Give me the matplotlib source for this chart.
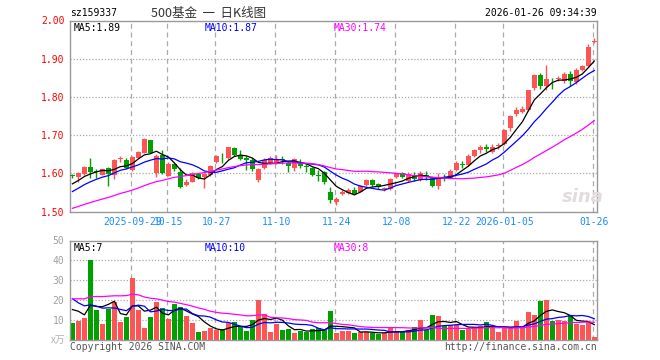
import matplotlib
matplotlib.use("Agg")
import matplotlib.pyplot as plt
import numpy as np
import pandas as pd

# daily candles, 2025-09-15 .. 2026-01-26 (88 trading days)
open_ = [1.595, 1.590, 1.597, 1.617, 1.605, 1.596, 1.613, 1.596, 1.638, 1.636,
         1.609, 1.641, 1.654, 1.686, 1.600, 1.648, 1.594, 1.625, 1.604, 1.570,
         1.578, 1.598, 1.591, 1.596, 1.629, 1.640, 1.639, 1.667, 1.648, 1.641,
         1.635, 1.582, 1.613, 1.627, 1.627, 1.637, 1.628, 1.615, 1.626, 1.617,
         1.615, 1.594, 1.604, 1.552, 1.525, 1.545, 1.549, 1.556, 1.552, 1.569,
         1.582, 1.571, 1.560, 1.558, 1.591, 1.600, 1.581, 1.596, 1.582, 1.596,
         1.589, 1.567, 1.590, 1.589, 1.609, 1.624, 1.622, 1.646, 1.660, 1.670,
         1.657, 1.671, 1.677, 1.718, 1.754, 1.760, 1.767, 1.822, 1.857, 1.828,
         1.839, 1.847, 1.841, 1.859, 1.839, 1.870, 1.882, 1.945]
high = [1.599, 1.604, 1.620, 1.640, 1.611, 1.612, 1.616, 1.638, 1.646, 1.641,
        1.645, 1.659, 1.692, 1.687, 1.650, 1.661, 1.630, 1.628, 1.614, 1.584,
        1.603, 1.600, 1.600, 1.622, 1.648, 1.652, 1.670, 1.670, 1.661, 1.644,
        1.640, 1.615, 1.640, 1.645, 1.648, 1.646, 1.632, 1.640, 1.638, 1.625,
        1.617, 1.608, 1.606, 1.563, 1.539, 1.556, 1.562, 1.565, 1.570, 1.585,
        1.584, 1.575, 1.565, 1.587, 1.602, 1.603, 1.604, 1.604, 1.606, 1.607,
        1.592, 1.600, 1.598, 1.610, 1.632, 1.632, 1.650, 1.664, 1.674, 1.677,
        1.676, 1.679, 1.716, 1.753, 1.774, 1.776, 1.818, 1.860, 1.862, 1.884,
        1.850, 1.854, 1.865, 1.868, 1.875, 1.884, 1.938, 1.955]
low = [1.588, 1.576, 1.595, 1.589, 1.589, 1.595, 1.567, 1.585, 1.629, 1.611,
       1.605, 1.640, 1.652, 1.652, 1.591, 1.597, 1.592, 1.606, 1.562, 1.566,
       1.576, 1.585, 1.562, 1.594, 1.627, 1.628, 1.638, 1.645, 1.635, 1.609,
       1.605, 1.578, 1.611, 1.625, 1.625, 1.625, 1.603, 1.605, 1.615, 1.604,
       1.594, 1.581, 1.572, 1.523, 1.517, 1.542, 1.546, 1.545, 1.550, 1.567,
       1.567, 1.560, 1.554, 1.556, 1.589, 1.588, 1.578, 1.580, 1.580, 1.582,
       1.563, 1.559, 1.581, 1.587, 1.607, 1.613, 1.620, 1.642, 1.652, 1.657,
       1.652, 1.663, 1.675, 1.712, 1.751, 1.758, 1.764, 1.817, 1.821, 1.819,
       1.821, 1.841, 1.837, 1.828, 1.835, 1.868, 1.878, 1.940]
close = [1.592, 1.602, 1.617, 1.604, 1.604, 1.611, 1.597, 1.636, 1.639, 1.613,
         1.643, 1.657, 1.689, 1.654, 1.646, 1.600, 1.625, 1.611, 1.565, 1.576,
         1.600, 1.587, 1.597, 1.619, 1.646, 1.639, 1.668, 1.648, 1.637, 1.636,
         1.611, 1.611, 1.635, 1.639, 1.634, 1.634, 1.618, 1.638, 1.618, 1.616,
         1.596, 1.593, 1.578, 1.530, 1.532, 1.552, 1.556, 1.547, 1.567, 1.582,
         1.569, 1.563, 1.561, 1.584, 1.600, 1.591, 1.598, 1.584, 1.602, 1.591,
         1.567, 1.591, 1.589, 1.607, 1.628, 1.623, 1.646, 1.660, 1.670, 1.663,
         1.670, 1.672, 1.714, 1.751, 1.767, 1.769, 1.817, 1.857, 1.828, 1.848,
         1.838, 1.848, 1.859, 1.841, 1.870, 1.882, 1.930, 1.947]
volume = [8.5, 9.7, 11, 40, 15, 8, 15.5, 19, 9, 11.5,
          31, 15, 6, 11.5, 19, 16, 10.5, 18, 16.5, 12,
          8.5, 4, 4.5, 6, 5, 5.5, 8.5, 9, 6.5, 4.5,
          10, 20, 13, 4, 8, 5, 5.5, 3.5, 4.5, 4,
          5.5, 6, 5, 14.5, 3.5, 4.5, 4.5, 3.5, 4, 4,
          3.5, 3, 3.5, 6, 4.5, 4, 5, 6.5, 10, 5,
          12.5, 12, 7, 7.5, 7.5, 5, 5.5, 6.5, 7, 9,
          6.5, 4, 6.5, 6, 9.5, 6, 14, 12.5, 19.5, 20,
          9.5, 10, 9.5, 12.5, 8, 7.5, 9, 1.5]

# 29 sessions before the window, estimated from where the MA lines start
prior_close = [1.452, 1.460, 1.455, 1.468, 1.475, 1.470, 1.482, 1.478, 1.490, 1.500,
               1.495, 1.502, 1.490, 1.498, 1.505, 1.500, 1.496, 1.504, 1.500, 1.508,
               1.515, 1.522, 1.530, 1.540, 1.553, 1.558, 1.565, 1.570, 1.577]
prior_volume = [9, 12, 8, 11, 10, 9, 13, 10, 8, 10,
                25, 38, 30, 28, 35, 32, 27, 36, 31, 30.5,
                31, 26, 35, 21.5, 18, 14, 20, 16, 18]

tick_idx = [10, 16, 24, 34, 44, 54, 64, 72, 87]
tick_labels = ['2025-09-29', '10-15', '10-27', '11-10', '11-24', '12-08',
               '12-22', '2026-01-05', '01-26']

UP = '#ff5454'
DOWN = '#00a000'
MA_COLORS = {5: 'black', 10: '#0000ff', 30: '#ff00ff'}
MONO = 'DejaVu Sans Mono'
CJK = ['Noto Sans CJK SC', 'DejaVu Sans']
W, H = 660, 360

n = len(close)
x = np.arange(n)
o = np.array(open_)
c = np.array(close)
colors = np.where(c >= o, UP, DOWN)

cl_all = pd.Series(prior_close + close)
vol_all = pd.Series(prior_volume + volume)
skip = len(prior_close)


def px_axes(left, top, right, bottom):
    return fig.add_axes([left / W, 1 - bottom / H, (right - left) / W, (bottom - top) / H])


def style(ax, yticks, ylabels, ycolor):
    ax.set_xlim(-0.4, n - 0.55)
    for s in ax.spines.values():
        s.set_color('#999999')
        s.set_linewidth(1.0)
    ax.set_yticks(yticks)
    ax.set_yticklabels(ylabels, fontfamily=MONO, fontsize=7, color=ycolor)
    ax.tick_params(length=0, pad=4)
    for v in yticks[1:-1]:
        ax.axhline(v, color='#aaaaaa', lw=0.9, ls=(0, (1, 1.5)), zorder=0)
    for xt in tick_idx:
        ax.axvline(xt - 0.3, color='#aaaaaa', lw=0.9, ls=(0, (4, 3)), zorder=0)


def ma_labels(ax, values, fmt, y):
    for (p, col), xpos in zip(MA_COLORS.items(), (4, 135, 264)):
        ax.text(xpos / 527, y, f'MA{p}:{fmt(values[p])}', transform=ax.transAxes,
                fontfamily=MONO, fontsize=7, color=col, va='top')


fig = plt.figure(figsize=(W / 100, H / 100), dpi=100)

# price panel
ax = px_axes(70, 20.5, 597, 211.5)
ax.set_ylim(1.50, 2.00)
yt = [1.50, 1.60, 1.70, 1.80, 1.90, 2.00]
style(ax, yt, [f'{v:.2f}' for v in yt], '#ff0000')
ax.vlines(x, low, high, colors=colors, lw=1.0, zorder=2)
body_h = np.maximum(np.abs(c - o), 0.002)
ax.bar(x, body_h, bottom=np.minimum(o, c), width=0.78, color=colors, lw=0, zorder=3)
ma_last = {}
for p, col in MA_COLORS.items():
    ma = cl_all.rolling(p).mean().to_numpy()
    ma_last[p] = ma[-1]
    ax.plot(x, ma[skip:], color=col, lw=0.9, zorder=4)
ax.set_xticks(tick_idx)
ax.set_xticklabels(tick_labels, fontfamily=MONO, fontsize=7, color='#1a8cff')
ax.tick_params(axis='x', pad=4)
ma_labels(ax, ma_last, lambda v: f'{v:.2f}', 0.985)

# volume panel
av = px_axes(70, 240.5, 597, 340)
av.set_ylim(0, 50)
vt = [0, 10, 20, 30, 40, 50]
style(av, vt, ['', '10', '20', '30', '40', '50'], '#a0a0a0')
av.bar(x, volume, width=0.78, color=colors, lw=0, zorder=2)
vma_last = {}
for p, col in MA_COLORS.items():
    ma = vol_all.rolling(p).mean().to_numpy()
    vma_last[p] = ma[-1]
    av.plot(x, ma[skip:], color=col, lw=0.9, zorder=3)
av.set_xticks([])
ma_labels(av, vma_last, lambda v: f'{int(v)}', 0.975)

# header and footer texts
fig.text(70 / W, 1 - 13 / H, 'sz159337', fontfamily=MONO, fontsize=7, va='center')
fig.text(209 / W, 1 - 13 / H, '500基金  一  日K线图', family=CJK,
         fontsize=9, color='#333333', va='center', ha='center')
fig.text(597 / W, 1 - 13 / H, '2026-01-26 09:34:39', fontfamily=MONO, fontsize=7,
         va='center', ha='right')
fig.text(70 / W, 1 - 346.5 / H, 'Copyright 2026 SINA.COM', fontfamily=MONO, fontsize=7,
         color='#555555', va='center')
fig.text(597 / W, 1 - 346.5 / H, 'http://finance.sina.com.cn', fontfamily=MONO, fontsize=7,
         color='#555555', va='center', ha='right')
fig.text(65 / W, 1 - 340 / H, 'x万', family=CJK, fontsize=7,
         color='#b0b0b0', va='center', ha='right')
fig.text(583 / W, 1 - 197 / H, 'sina', fontsize=13, fontweight='bold', style='italic',
         color='#e2dcdc', va='center', ha='center', zorder=0)

fig.savefig('out.png', dpi=100)
